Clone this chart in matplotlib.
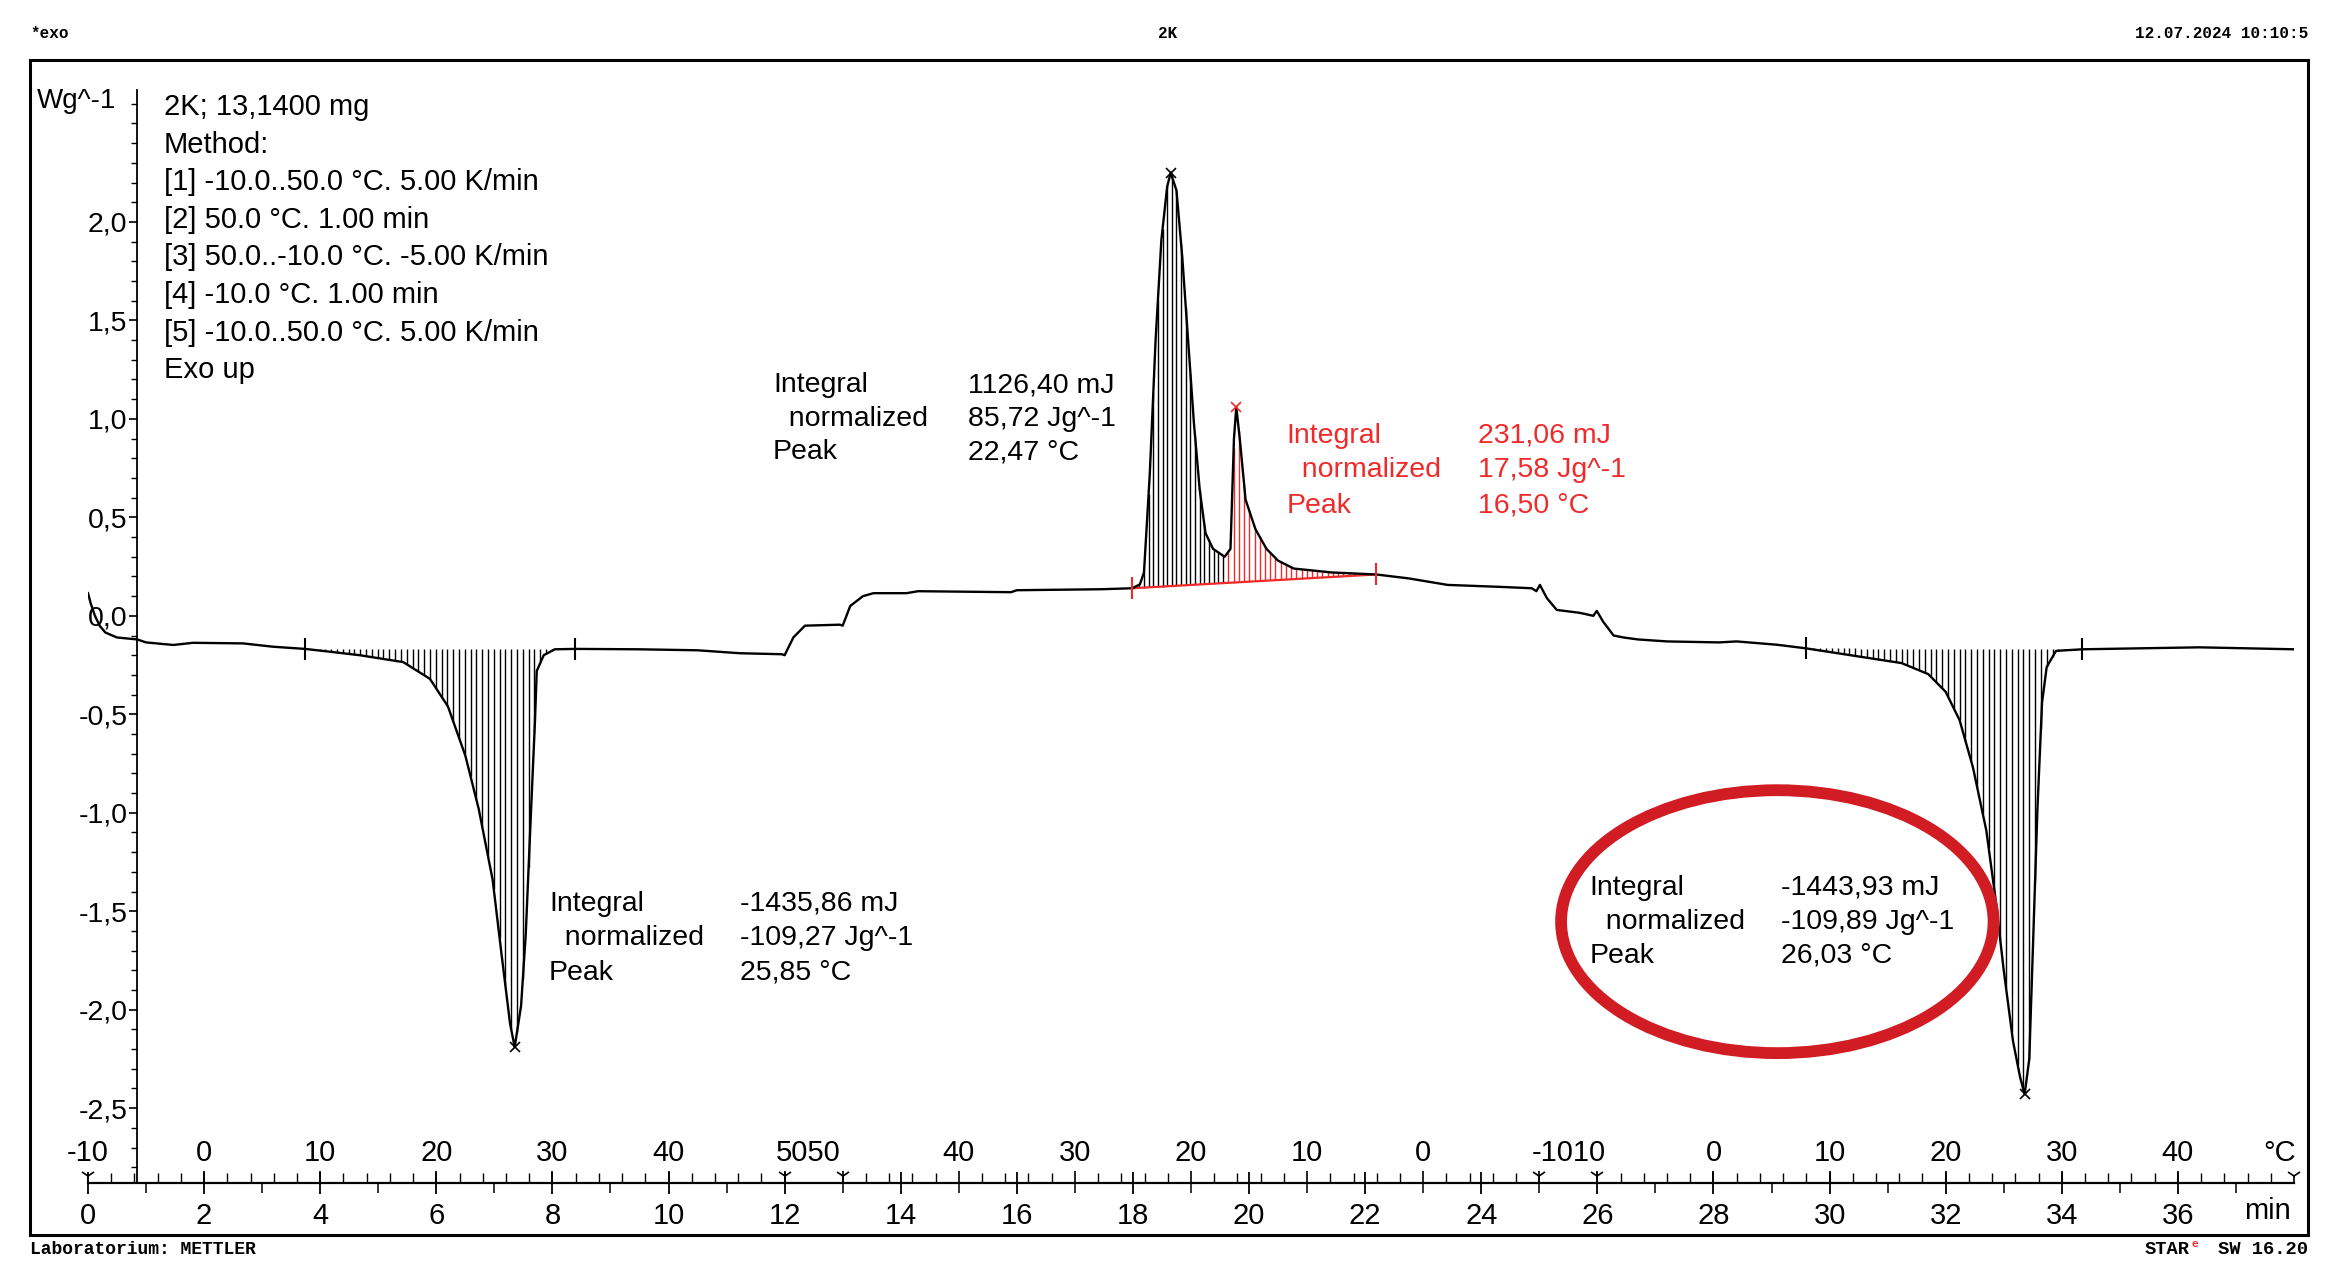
import numpy as np
import matplotlib
matplotlib.use("Agg")
import matplotlib.pyplot as plt
from matplotlib.patches import Ellipse, Rectangle
from matplotlib.ticker import FixedLocator, FuncFormatter

# ---------------- data ----------------
time_min = [0.00, 0.05, 0.12, 0.20, 0.30, 0.50, 0.85, 1.00, 1.47, 1.81, 2.67, 3.19, 3.74, 4.10, 4.68,
            5.43, 5.89, 6.20, 6.50, 6.73, 6.97, 7.12, 7.27, 7.35, 7.46, 7.54, 7.62, 7.70,
            7.73, 7.85, 8.04, 8.39, 9.50, 10.50, 11.23, 11.95, 12.00, 12.15, 12.35, 12.95,
            13.00, 13.13, 13.35, 13.53, 14.10, 14.30, 15.90, 16.00, 17.46, 17.99, 18.12,
            18.19, 18.29, 18.39, 18.49, 18.59, 18.65, 18.75, 18.85, 18.95, 19.05, 19.15,
            19.25, 19.38, 19.58, 19.68, 19.74, 19.78, 19.84, 19.94, 20.11, 20.30, 20.50,
            20.77, 21.10, 21.43, 22.19, 22.75, 23.42, 24.32, 24.87, 24.95, 25.01, 25.13,
            25.30, 25.70, 25.93, 25.99, 26.10, 26.28, 26.45, 26.70, 27.20, 28.10, 28.40,
            29.10, 29.59, 30.47, 31.24, 31.70, 32.00, 32.24, 32.47, 32.70, 32.86, 33.00,
            33.16, 33.28, 33.36, 33.44, 33.50, 33.58, 33.66, 33.74, 33.90, 34.35, 36.37,
            38.00]
heat_flow = [0.115, 0.06, 0.0, -0.05, -0.085, -0.11, -0.12, -0.135, -0.148, -0.137, -0.14, -0.157, -0.168,
             -0.18, -0.20, -0.235, -0.32, -0.46, -0.71, -0.98, -1.34, -1.71, -2.07, -2.19,
             -1.98, -1.62, -1.07, -0.53, -0.28, -0.20, -0.17, -0.168, -0.17, -0.175, -0.19,
             -0.195, -0.20, -0.11, -0.05, -0.045, -0.05, 0.05, 0.10, 0.115, 0.115, 0.125,
             0.12, 0.13, 0.135, 0.14, 0.16, 0.22, 0.72, 1.40, 1.91, 2.18, 2.25, 2.16, 1.82,
             1.40, 0.98, 0.64, 0.42, 0.34, 0.30, 0.34, 0.90, 1.06, 0.90, 0.59, 0.44, 0.34,
             0.28, 0.24, 0.23, 0.22, 0.21, 0.19, 0.157, 0.147, 0.14, 0.125, 0.157, 0.09,
             0.03, 0.015, 0.0, 0.025, -0.03, -0.10, -0.11, -0.12, -0.13, -0.135, -0.13,
             -0.147, -0.165, -0.205, -0.24, -0.296, -0.386, -0.53, -0.77, -1.09, -1.44,
             -1.80, -2.16, -2.34, -2.43, -2.25, -1.71, -0.985, -0.44, -0.26, -0.178, -0.17,
             -0.16, -0.17]

# temperature programme segments
seg_start_time = [0, 12, 13, 25, 26]
seg_end_time = [12, 13, 25, 26, 38]
seg_start_temp = [-10, 50, 50, -10, -10]
seg_end_temp = [50, 50, -10, -10, 50]

# axis labels
time_ticks = list(range(0, 37, 2))
time_minor_ticks = list(range(1, 38, 2))
temp_label_time = [0, 2, 4, 6, 8, 10, 12.4, 15, 17, 19, 21, 23, 25.5, 28, 30, 32, 34, 36]
temp_labels = ["-10", "0", "10", "20", "30", "40", "5050", "40", "30", "20", "10", "0",
               "-1010", "0", "10", "20", "30", "40"]
y_major = [-2.5, -2.0, -1.5, -1.0, -0.5, 0.0, 0.5, 1.0, 1.5, 2.0]

# integrations: (start, end) times and baseline values at the limits
endo1_limits = [3.74, 8.39]
endo1_base = [-0.168, -0.168]
exo_limits = [17.99, 22.19]
exo_base = [0.14, 0.21]
exo_split = 19.60
endo2_limits = [29.59, 34.35]
endo2_base = [-0.165, -0.17]

peak_times_black = [7.35, 18.65, 33.36]
peak_vals_black = [-2.19, 2.25, -2.43]
peak_time_red = [19.78]
peak_val_red = [1.06]

ann_names = ["Integral", "  normalized", "Peak"]
ann_endo1 = ["-1435,86 mJ", "-109,27 Jg^-1", "25,85 °C"]
ann_exo1 = ["1126,40 mJ", "85,72 Jg^-1", "22,47 °C"]
ann_exo2 = ["231,06 mJ", "17,58 Jg^-1", "16,50 °C"]
ann_endo2 = ["-1443,93 mJ", "-109,89 Jg^-1", "26,03 °C"]

method_lines = ["2K; 13,1400 mg", "Method:", "[1] -10.0..50.0 °C. 5.00 K/min",
                "[2] 50.0 °C. 1.00 min", "[3] 50.0..-10.0 °C. -5.00 K/min",
                "[4] -10.0 °C. 1.00 min", "[5] -10.0..50.0 °C. 5.00 K/min", "Exo up"]

# ---------------- figure ----------------
W, H = 2339, 1282
fig = plt.figure(figsize=(W / 100, H / 100), dpi=100)
fig.patch.set_facecolor("white")

SANS = ["Liberation Sans", "DejaVu Sans"]
NARROW = ["Liberation Sans Narrow", "Liberation Sans", "DejaVu Sans"]
MONO = ["Liberation Mono", "DejaVu Sans Mono"]
RED = "#f02a2a"

ax_left, ax_right = 88 / W, 2294 / W
ax_bottom, ax_top = 1 - 1183 / H, 1 - 90 / H
ax = fig.add_axes([ax_left, ax_bottom, ax_right - ax_left, ax_top - ax_bottom])
ax.set_facecolor("none")
YMIN, YMAX = -2.88, 2.67
ax.set_xlim(0, 38.0)
ax.set_ylim(YMIN, YMAX)

# temperature ticks (above axis) on a twin x axis
temp_major_t, temp_minor_t = [], []
for t0, t1, T0, T1 in zip(seg_start_time, seg_end_time, seg_start_temp, seg_end_temp):
    if T0 == T1:
        continue
    rate = (T1 - T0) / (t1 - t0)
    for T in np.arange(min(T0, T1), max(T0, T1) + 0.01, 2):
        tt = t0 + (T - T0) / rate
        if 0 < tt < 38:
            (temp_major_t if int(round(T)) % 10 == 0 else temp_minor_t).append(tt)
ax2 = ax.twiny()
ax2.set_xlim(ax.get_xlim())
ax2.xaxis.set_ticks_position("bottom")
for s in ax2.spines.values():
    s.set_visible(False)
ax2.xaxis.set_major_locator(FixedLocator(temp_major_t))
ax2.xaxis.set_minor_locator(FixedLocator(temp_minor_t))
ax2.tick_params(axis="x", which="major", direction="in", length=9, width=1.2,
                labelbottom=False, labeltop=False)
ax2.tick_params(axis="x", which="minor", direction="in", length=7, width=1.0)

# spines
ax.spines["top"].set_visible(False)
ax.spines["right"].set_visible(False)
ax.spines["left"].set_position(("data", 0.85))
ax.spines["left"].set_linewidth(1.3)
ax.spines["bottom"].set_linewidth(1.6)

# y ticks
ax.yaxis.set_major_locator(FixedLocator(y_major))
ax.yaxis.set_minor_locator(FixedLocator(np.round(np.arange(-2.8, 2.65, 0.1), 2)))
ax.yaxis.set_major_formatter(FuncFormatter(lambda v, p: f"{v:.1f}".replace(".", ",")))
ax.tick_params(axis="y", which="major", direction="out", length=6, width=1.2, pad=1,
               labelsize=20.5, left=True, labelleft=True)
ax.tick_params(axis="y", which="minor", direction="out", length=4, width=1.0)
for lab in ax.get_yticklabels():
    lab.set_family(NARROW)

# time ticks (below axis)
ax.set_xticks(time_ticks)
ax.set_xticklabels([str(t) for t in time_ticks])
ax.xaxis.set_minor_locator(FixedLocator(time_minor_ticks))
ax.tick_params(axis="x", which="major", direction="inout", length=16, width=1.3, pad=6,
               labelsize=21)
ax.tick_params(axis="x", which="minor", direction="out", length=7, width=1.1)
for lab in ax.get_xticklabels():
    lab.set_family(NARROW)

# segment boundary markers
seg_bounds = sorted(set(seg_start_time + seg_end_time))
ax.plot(seg_bounds, [YMIN + 0.035] * len(seg_bounds), ls="none", marker="1", ms=11,
        mew=1.2, color="k", clip_on=False, zorder=5)

# temperature labels above the axis
for t, lab in zip(temp_label_time, temp_labels):
    ax.text(t, -2.73, lab, ha="center", va="center", fontsize=21, family=NARROW)
ax.text(37.75, -2.73, "°C", ha="center", va="center", fontsize=21, family=NARROW)
ax.text(37.55, -2.88 - 0.14, "min", ha="center", va="center", fontsize=21, family=NARROW)

# ---------------- hatching ----------------
def hatch(limits, base, t_from, t_to, step, color):
    ts = np.arange(t_from + step / 2, t_to, step)
    curve = np.interp(ts, time_min, heat_flow)
    b = np.interp(ts, limits, base)
    ax.vlines(ts, b, curve, colors=color, lw=1.0, zorder=2)

hatch(endo1_limits, endo1_base, endo1_limits[0], endo1_limits[1], 0.1, "k")
hatch(exo_limits, exo_base, exo_limits[0], exo_split, 0.08, "k")
hatch(exo_limits, exo_base, exo_split, exo_limits[1], 0.09, RED)
hatch(endo2_limits, endo2_base, endo2_limits[0], endo2_limits[1], 0.1, "k")
ax.plot(exo_limits, exo_base, color=RED, lw=1.6, zorder=3)

# curve
ax.plot(time_min, heat_flow, color="k", lw=1.7, zorder=4)

# limits markers
for lims, base, col in [(endo1_limits, endo1_base, "k"), (exo_limits, exo_base, RED),
                        (endo2_limits, endo2_base, "k")]:
    ax.plot(lims, base, ls="none", marker="|", ms=16, mew=1.5, color=col, zorder=5)

# peak markers
ax.plot(peak_times_black, peak_vals_black, ls="none", marker="x", ms=7, mew=1.2,
        color="k", zorder=5)
ax.plot(peak_time_red, peak_val_red, ls="none", marker="x", ms=7, mew=1.2, color=RED,
        zorder=5)

# ---------------- annotations ----------------
def result_block(x_name, x_val, y_rows, values, color):
    for name, val, y in zip(ann_names, values, y_rows):
        ax.text(x_name, y, name, ha="left", va="center", fontsize=20.5, family=SANS,
                color=color)
        ax.text(x_val, y, val, ha="left", va="center", fontsize=20.5, family=SANS,
                color=color)

result_block(7.94, 11.23, [-1.462, -1.635, -1.812], ann_endo1, "k")
result_block(11.80, 15.16, [1.17, 1.00, 0.83], ann_exo1, "k")
result_block(20.64, 23.94, [0.914, 0.741, 0.558], ann_exo2, RED)
result_block(25.87, 29.16, [-1.381, -1.553, -1.726], ann_endo2, "k")

ell = Ellipse((29.1, -1.553), 7.45, 1.335, fill=False, edgecolor="#d01c22", lw=8.5,
              zorder=6)
ax.add_patch(ell)

for i, line in enumerate(method_lines):
    fig.text(164 / W, 1 - (107 + i * 37.6) / H, line, ha="left", va="center",
             fontsize=21, family=SANS)

fig.text(37 / W, 1 - 101 / H, "Wg^-1", ha="left", va="center", fontsize=20, family=SANS)

# ---------------- frame, header, footer ----------------
fig.patches.append(Rectangle((30 / W, 1 - 1235 / H), (2308 - 30) / W, (1235 - 60) / H,
                             transform=fig.transFigure, fill=False, lw=2.2,
                             edgecolor="k"))
fig.text(30 / W, 1 - 33 / H, "*exo", ha="left", va="center", fontsize=11.5,
         family=MONO, weight="bold")
fig.text(1168 / W, 1 - 33 / H, "2K", ha="center", va="center", fontsize=11.5,
         family=MONO, weight="bold")
fig.text(2308 / W, 1 - 33 / H, "12.07.2024 10:10:5", ha="right", va="center",
         fontsize=11.5, family=MONO, weight="bold")
fig.text(30 / W, 1 - 1250 / H, "Laboratorium: METTLER", ha="left", va="center",
         fontsize=13, family=MONO, weight="bold")
fig.text(2308 / W, 1 - 1250 / H, "SW 16.20", ha="right", va="center", fontsize=13.5,
         family=MONO, weight="bold")
fig.text(2190 / W, 1 - 1250 / H, "STAR", ha="right", va="center", fontsize=13.5,
         family=MONO, weight="bold", color="k")
fig.text(2191 / W, 1 - 1244 / H, "e", ha="left", va="center", fontsize=8,
         family=MONO, weight="bold", color=RED)

fig.savefig("out.png", dpi=100, facecolor="white")
